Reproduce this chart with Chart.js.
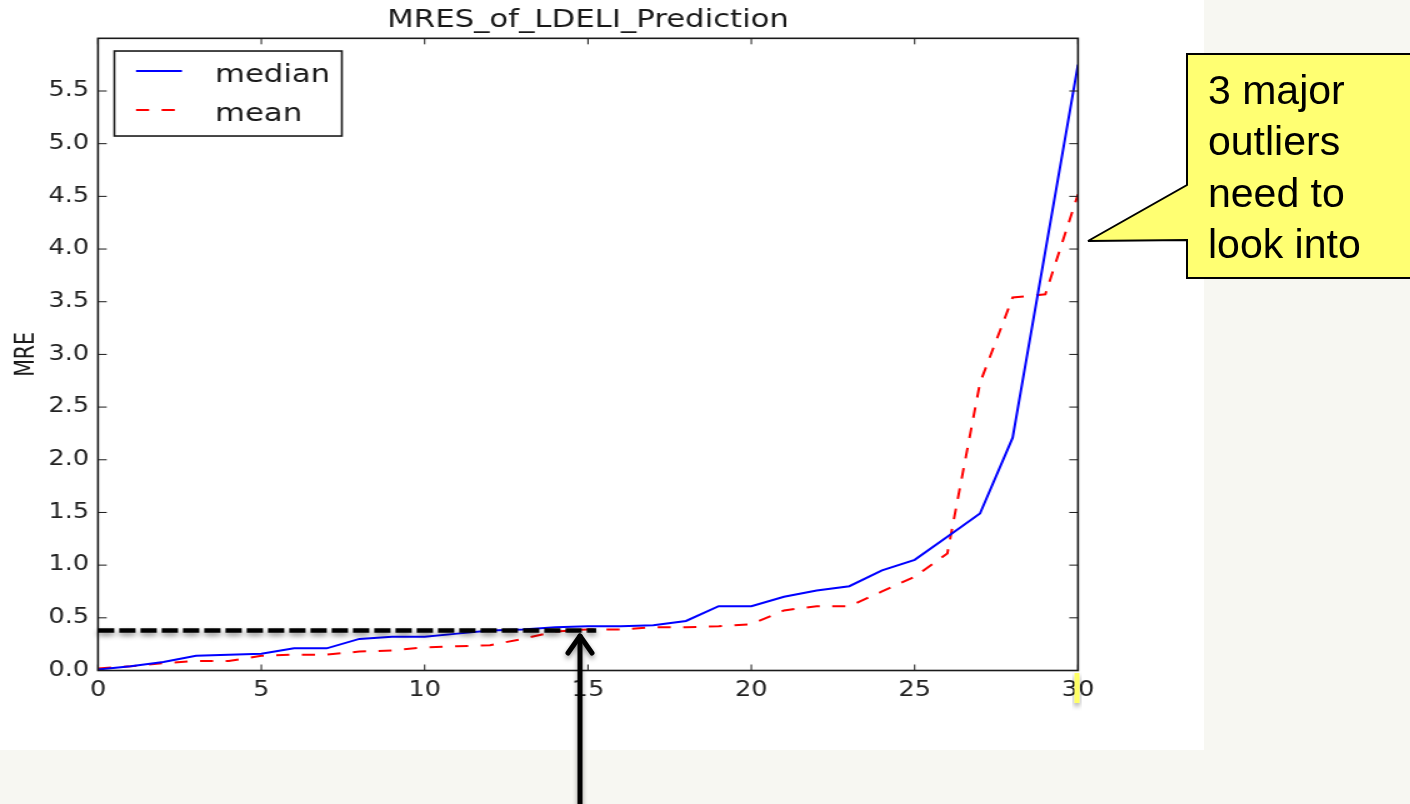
<!DOCTYPE html>
<html>
<head>
<meta charset="utf-8">
<script src="https://cdn.jsdelivr.net/npm/chart.js@4.4.1/dist/chart.umd.min.js"></script>
<style>
  body { margin: 0; background: #f7f7f2; overflow: hidden; }
  #page { position: relative; width: 1410px; height: 804px; }
  #sheet { position: absolute; left: 0; top: 0; width: 1204px; height: 750px; background: #fff; }
  #mres { position: absolute; left: 0; top: 0; transform: scaleX(1.25); transform-origin: 0 0; }
  #notes { position: absolute; left: 0; top: 0; }
</style>
</head>
<body>
<div id="page">
  <div id="sheet"></div>
  <canvas id="mres" width="941" height="750"></canvas>
  <svg id="notes" width="1410" height="804">
    <defs>
      <filter id="sh" x="-50%" y="-50%" width="200%" height="200%">
        <feDropShadow dx="0" dy="3" stdDeviation="2.5" flood-color="#000" flood-opacity="0.4"/>
      </filter>
    </defs>
    <!-- arrow pointing at run 15 -->
    <g filter="url(#sh)" stroke="#000" stroke-width="5" fill="none" stroke-linecap="round" stroke-linejoin="round">
      <line x1="580" y1="810" x2="580" y2="636"/>
      <polyline points="568,653 580,636 592,653"/>
    </g>
    <rect x="1074.5" y="673" width="5" height="30" fill="#ffff66" filter="url(#sh)"/>
    <!-- callout -->
    <path d="M1187,54 H1414 V278 H1187 V240 L1088,241 L1187,185 Z" fill="#ffff72" stroke="#000" stroke-width="2"/>
    <g font-family="'Liberation Sans', Arial, sans-serif" font-size="41" fill="#000">
      <text x="1208" y="104">3 major</text>
      <text x="1208" y="155">outliers</text>
      <text x="1208" y="207">need to</text>
      <text x="1208" y="258">look into</text>
    </g>
  </svg>
</div>
<script>
// run index (sorted), median MRE and mean MRE
const runs = [0,1,2,3,4,5,6,7,8,9,10,11,12,13,14,15,16,17,18,19,20,21,22,23,24,25,26,27,28,29,30];
const medianMRE = [0.01,0.04,0.08,0.14,0.15,0.16,0.21,0.21,0.30,0.32,0.32,0.35,0.38,0.39,0.41,0.42,
                   0.42,0.43,0.47,0.61,0.61,0.70,0.76,0.80,0.95,1.05,1.27,1.49,2.21,3.98,5.75];
const meanMRE   = [0.02,0.04,0.07,0.09,0.09,0.14,0.15,0.15,0.18,0.19,0.22,0.23,0.24,0.30,0.37,0.39,
                   0.39,0.41,0.41,0.42,0.44,0.57,0.61,0.61,0.75,0.89,1.11,2.73,3.54,3.57,4.52];
const seriesNames = ['median', 'mean'];
const xTickStep = 5;
const yTickStep = 0.5;
// hand drawn marker on the slide
const markLevel = 0.38;
const markEnd = 15.25;

const FONT = "'DejaVu Sans', sans-serif";

const pts = vals => runs.map((r, i) => ({x: r, y: vals[i]}));

const framePlugin = {
  id: 'frame',
  afterDatasetsDraw(chart) {
    const {ctx, chartArea: a, scales: {x, y}} = chart;
    const line = (x1, y1, x2, y2) => { ctx.beginPath(); ctx.moveTo(x1, y1); ctx.lineTo(x2, y2); ctx.stroke(); };
    ctx.save();
    // box + inward ticks, matplotlib style
    ctx.strokeStyle = '#1a1a1a';
    ctx.lineWidth = 1.6;
    ctx.strokeRect(a.left, a.top, a.width, a.height);
    ctx.lineWidth = 1;
    x.ticks.forEach(t => {
      const px = x.getPixelForValue(t.value);
      line(px, a.bottom, px, a.bottom - 6);
      line(px, a.top, px, a.top + 6);
    });
    y.ticks.forEach(t => {
      const py = y.getPixelForValue(t.value);
      line(a.left, py, a.left + 7, py);
      line(a.right, py, a.right - 7, py);
    });

    // legend box
    const lx = a.left + 13.1, ly = a.top + 12.7;
    ctx.fillStyle = '#fff';
    ctx.fillRect(lx, ly, 182, 85);
    ctx.lineWidth = 1.6;
    ctx.strokeRect(lx, ly, 182, 85);
    ctx.font = '24.6px ' + FONT;
    ctx.textBaseline = 'alphabetic';
    chart.data.datasets.forEach((ds, i) => {
      const yy = a.top + 32.7 + i * 39;
      ctx.strokeStyle = ds.borderColor;
      ctx.lineWidth = 2;
      ctx.setLineDash(ds.borderDash || []);
      line(lx + 17.3, yy, lx + 54.1, yy);
      ctx.setLineDash([]);
      ctx.fillStyle = '#1a1a1a';
      ctx.fillText(ds.label, lx + 80.5, yy + 10.7);
    });

    // thick dashed marker at the median of the runs
    const ty = y.getPixelForValue(markLevel);
    ctx.shadowColor = 'rgba(0,0,0,0.45)';
    ctx.shadowBlur = 5;
    ctx.shadowOffsetY = 3;
    ctx.strokeStyle = '#000';
    ctx.lineWidth = 4.5;
    ctx.setLineDash([13, 4]);
    line(a.left, ty, x.getPixelForValue(markEnd), ty);
    ctx.restore();
  }
};

new Chart(document.getElementById('mres'), {
  type: 'line',
  data: {
    datasets: [
      {label: seriesNames[0], data: pts(medianMRE), borderColor: '#0000ff', borderWidth: 2,
       pointRadius: 0, tension: 0, fill: false},
      {label: seriesNames[1], data: pts(meanMRE), borderColor: '#ff0000', borderWidth: 2,
       borderDash: [10.5, 10], pointRadius: 0, tension: 0, fill: false}
    ]
  },
  options: {
    responsive: false,
    animation: false,
    devicePixelRatio: 1,
    layout: {padding: 0},
    plugins: {
      legend: {display: false},
      tooltip: {enabled: false},
      title: {
        display: true,
        text: 'MRES_of_LDELI_Prediction',
        color: '#1a1a1a',
        font: {family: FONT, size: 24.6, weight: 'normal'},
        padding: {top: 6, bottom: 2.8}
      }
    },
    scales: {
      x: {
        type: 'linear', min: 0, max: 30,
        grid: {display: false, drawTicks: false},
        border: {display: false},
        ticks: {stepSize: xTickStep, padding: 8, color: '#222', font: {family: FONT, size: 20.5}},
        afterFit: s => { s.height = 79.5; }
      },
      y: {
        type: 'linear', min: 0, max: 6,
        grid: {display: false, drawTicks: false},
        border: {display: false},
        ticks: {stepSize: yTickStep, padding: 7, color: '#222', font: {family: FONT, size: 20.5},
                callback: v => v.toFixed(1)},
        afterBuildTicks: s => { s.ticks = s.ticks.filter(t => t.value < 5.99); },
        title: {display: true, text: 'MRE', color: '#1a1a1a', font: {family: FONT, size: 20.5},
                padding: {top: 9.5, bottom: 0}},
        afterFit: s => { s.width = 78.4; }
      },
      yRight: {
        type: 'linear', position: 'right', display: true,
        grid: {display: false}, border: {display: false}, ticks: {display: false},
        afterFit: s => { s.width = 78.6; }
      }
    }
  },
  plugins: [framePlugin]
});
</script>
</body>
</html>
